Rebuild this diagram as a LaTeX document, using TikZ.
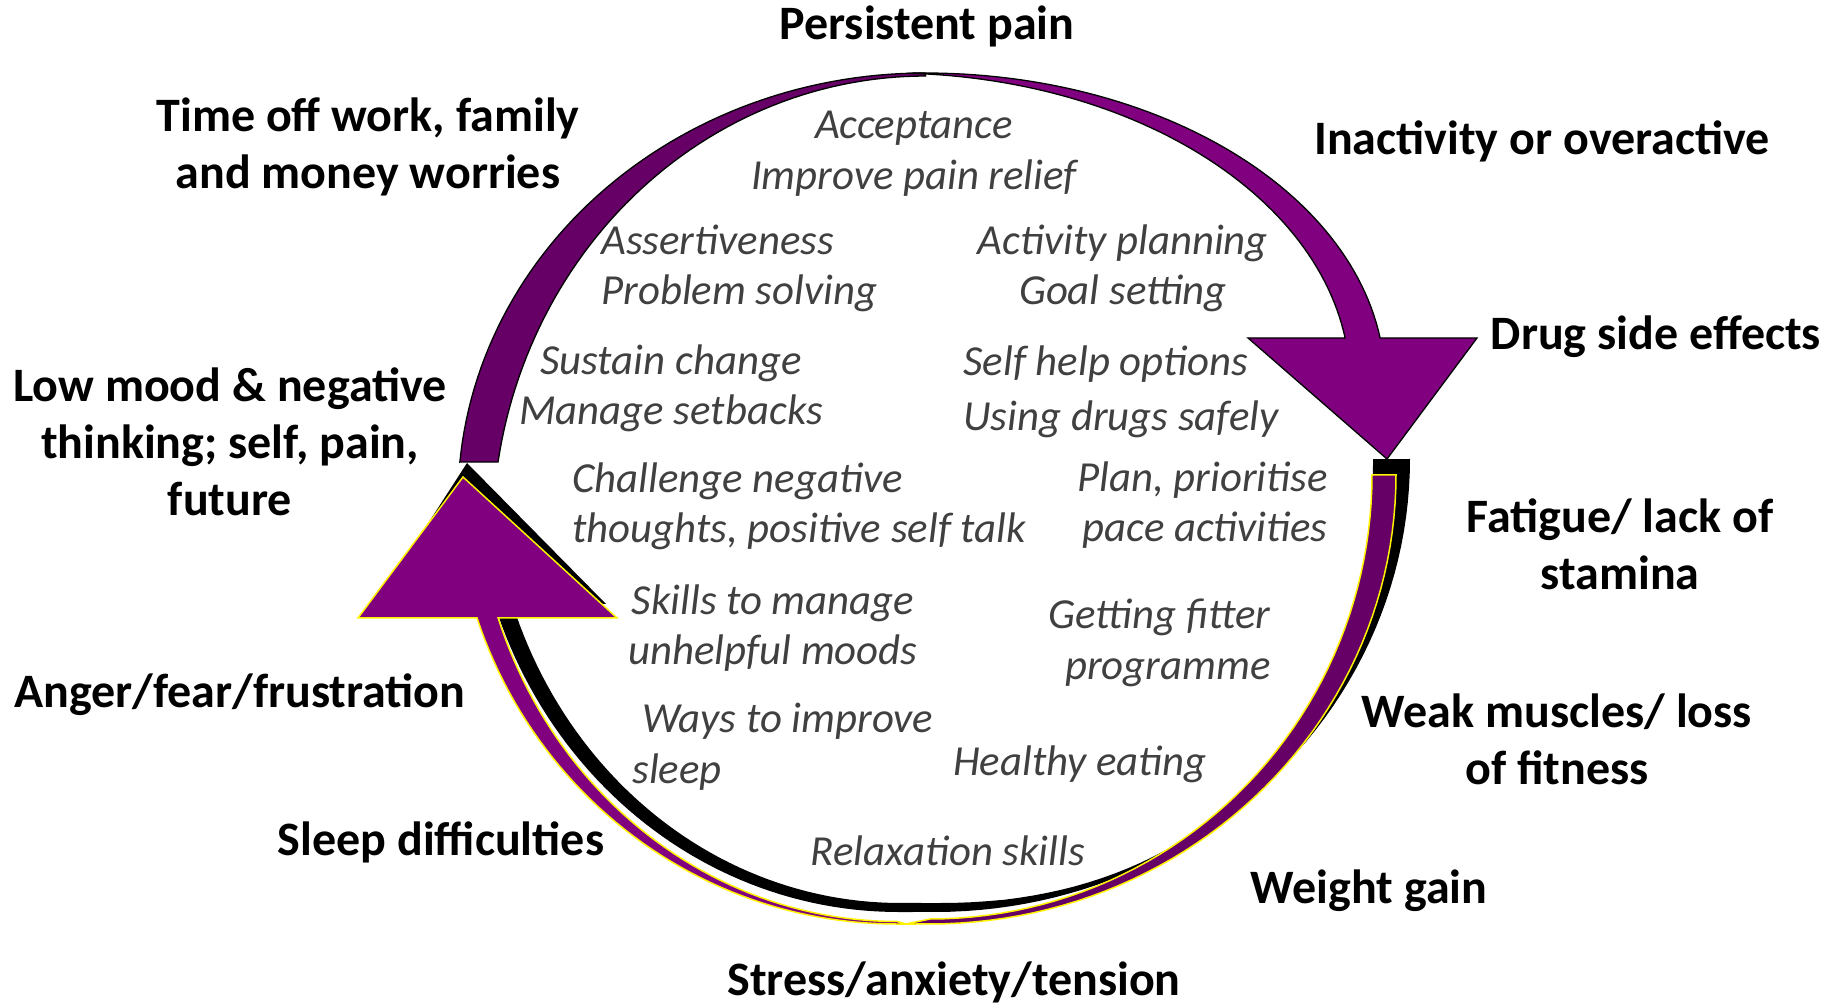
\documentclass[tikz,border=0pt]{standalone}
\usepackage{fontspec}
\setmainfont{Carlito}
\begin{document}
\begin{tikzpicture}[x=0.5pt,y=-0.5pt,
  declare function={spc(\t,\e)=pow(abs(cos(\t))+0.0001,\e); sps(\t,\e)=pow(abs(sin(\t))+0.0001,\e);}]
\definecolor{dpurple}{HTML}{660066}
\definecolor{bpurple}{HTML}{800080}
\definecolor{greytext}{HTML}{404040}
\tikzset{
  lab/.style={font=\bfseries\fontsize{24}{28.5}\selectfont, inner sep=0pt, align=center},
  tiptext/.style={font=\itshape\fontsize{21.4}{25}\selectfont, text=greytext, inner sep=0pt},
  tiptextb/.style={font=\itshape\fontsize{21.4}{25.5}\selectfont, text=greytext, inner sep=0pt},
  tiptextc/.style={font=\itshape\fontsize{21.4}{27.5}\selectfont, text=greytext, inner sep=0pt},
  yellowline/.style={draw=yellow, line width=0.75pt, line join=miter},
  blackline/.style={draw=black, line width=0.65pt, line join=miter},
}
\useasboundingbox (0,0) rectangle (1841,1004);

% ---- black shadow band (lower loop) ----
\fill[black] (1410,459)
  -- plot[domain=0:90,samples=50] ({935+475*cos(\x)},{459+453*sin(\x)})
  -- (898,912)
  -- plot[domain=90:18.67,samples=50] ({898-426*cos(\x)},{459+453*sin(\x)})
  -- (376,604) -- (467,463) -- (606,604)
  -- plot[domain=19.06:90,samples=50] ({900-410*cos(\x)},{459+444*sin(\x)})
  -- (935,903)
  -- plot[domain=90:0,samples=50] ({935+438*spc(\x,0.909)},{459+444*sps(\x,0.909)})
  -- cycle;

% ---- purple lower loop, dark tail half ----
\path[fill=dpurple, yellowline] (1396,475)
  -- plot[domain=0:90,samples=50] ({930+466*cos(\x)},{475+449*sin(\x)})
  -- (906,924) -- (930,919)
  -- plot[domain=90:0,samples=50] ({930+442*cos(\x)},{475+444*sin(\x)})
  -- cycle;
% ---- purple lower loop, bright half with arrow head ----
\path[fill=bpurple, yellowline] (906,924) -- (896,924)
  -- plot[domain=90:18.57,samples=50] ({896-442*cos(\x)},{475+449*sin(\x)})
  -- (358,618) -- (463,477) -- (617,618)
  -- plot[domain=18.68:90,samples=50] ({897-421*cos(\x)},{475+446.5*sin(\x)})
  -- cycle;

% ---- upper loop, dark tail half ----
\path[fill=dpurple, blackline] (460,462)
  -- plot[domain=5.1:90,samples=60] ({925-467*cos(\x)},{500-427*sin(\x)})
  -- (925.6,76)
  -- plot[domain=90:9.15,samples=60] ({925.6-433.1*cos(\x)},{535-459*sin(\x)})
  -- cycle;
% ---- upper loop, bright half with arrow head ----
\path[fill=bpurple, blackline] plot[domain=92.18:8.35,samples=60] ({925+460*cos(\x)},{383-310*sin(\x)})
  -- (1477,338) -- (1387,459) -- (1248,338)
  -- plot[domain=8.35:87.82,samples=60] ({890+460*cos(\x)},{383-310*sin(\x)})
  -- cycle;

% ---- outer labels ----
\node[lab, anchor=base] (persistent) at (927,40) {Persistent pain};
\node[lab, anchor=north] (timeoff) at (368,91) {\strut Time off work, family\\\strut and money worries};
\node[lab, anchor=base] (inactivity) at (1542,155) {Inactivity or overactive};
\node[lab, anchor=base] (drug) at (1656,350) {Drug side effects};
\node[lab, anchor=north] (lowmood) at (230,361) {\strut Low mood \& negative\\\strut thinking; self, pain,\\\strut future};
\node[lab, anchor=north] (fatigue) at (1620,492) {\strut Fatigue/ lack of\\\strut stamina};
\node[lab, anchor=base] (anger) at (240,707) {Anger/fear/frustration};
\node[lab, anchor=north] (weak) at (1557,687) {\strut Weak muscles/ loss\\\strut of fitness};
\node[lab, anchor=base] (sleepdiff) at (441,855) {Sleep difficulties};
\node[lab, anchor=base] (weight) at (1369,903) {Weight gain};
\node[lab, anchor=base] (stress) at (954,995) {Stress/anxiety/tension};

% ---- inner (grey italic) texts ----
\node[tiptextb, anchor=north, align=center] (accept) at (914,102) {\strut Acceptance\\\strut Improve pain relief};
\node[tiptext, anchor=north west, align=left] (assert) at (601,219) {\strut Assertiveness\\\strut Problem solving};
\node[tiptext, anchor=north, align=center] (activity) at (1123,219) {\strut Activity planning\\\strut Goal setting};
\node[tiptext, anchor=north, align=center] (sustain) at (671,339) {\strut Sustain change\\\strut Manage setbacks};
\node[tiptextc, anchor=north west, align=left] (selfhelp) at (963,337) {\strut Self help options\\\strut Using drugs safely};
\node[tiptext, anchor=north west, align=left] (challenge) at (572,457) {\strut Challenge negative\\\strut thoughts, positive self talk};
\node[tiptext, anchor=north east, align=right] (plan) at (1328,456) {\strut Plan, prioritise\\\strut pace activities};
\node[tiptext, anchor=north, align=center] (skills) at (773,579) {\strut Skills to manage\\\strut unhelpful moods};
\node[tiptextb, anchor=north east, align=right] (fitter) at (1271,592) {\strut Getting fitter\\\strut programme};
\node[tiptextb, anchor=north west, align=left] (ways) at (632,696) {\strut\hspace*{5pt}Ways to improve\\\strut sleep};
\node[tiptext, anchor=base] (healthy) at (1080,776) {Healthy eating};
\node[tiptext, anchor=base] (relax) at (948,865) {Relaxation skills};
\end{tikzpicture}
\end{document}
